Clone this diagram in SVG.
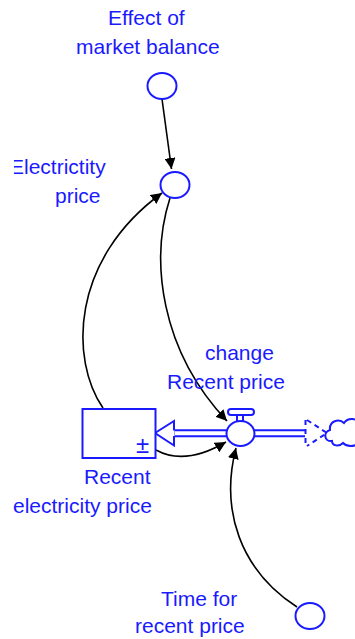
<svg xmlns="http://www.w3.org/2000/svg" width="355" height="639" viewBox="0 0 355 639">
<style>
text{font-family:"Liberation Sans",Arial,sans-serif;font-size:21px;fill:#1a1aff}
.aux{fill:#fff;stroke:#1a1aff;stroke-width:2}
.link{fill:none;stroke:#000;stroke-width:1.6}
</style>
<defs>
<marker id="ah" markerUnits="userSpaceOnUse" markerWidth="11" markerHeight="11" viewBox="0 0 10 10" refX="10" refY="5" orient="auto">
<path d="M0,0 L10,5 L0,10 z" fill="#000"/>
</marker>
<clipPath id="clipE"><rect x="14" y="0" width="341" height="639"/></clipPath>
</defs>
<rect width="355" height="639" fill="#fff"/>
<g id="connectors">
<path class="link" d="M162,99 L171.5,169" marker-end="url(#ah)"/>
<path class="link" d="M170,198 C150,260 160,350 227,421" marker-end="url(#ah)"/>
<path class="link" d="M103,408 C70,360 70,260 162,193" marker-end="url(#ah)"/>
<path class="link" d="M156,450 Q185,466 226,442" marker-end="url(#ah)"/>
<path class="link" d="M297,607 C240,570 220,510 236,448" marker-end="url(#ah)"/>
</g>
<g id="effect-of-market-balance">
<ellipse class="aux" cx="162" cy="86" rx="14.5" ry="13"/>
<text x="108" y="25">Effect of</text>
<text x="76" y="54">market balance</text>
</g>
<g id="electricity-price">
<ellipse class="aux" cx="175" cy="185" rx="14.5" ry="13"/>
<g clip-path="url(#clipE)"><text x="10" y="174">Electrictity</text></g>
<text x="55" y="203">price</text>
</g>
<g id="flow-change-recent-price">
<path d="M174,433.3 L305,433.3" stroke="#1a1aff" stroke-width="8" fill="none"/>
<path d="M173,433.3 L306,433.3" stroke="#fff" stroke-width="4" fill="none"/>
<polygon points="155,433 174,421 174,445.5" fill="#fff" stroke="#1a1aff" stroke-width="2"/>
<path d="M173.5,430.5 L173.5,436" stroke="#fff" stroke-width="2.2"/>
<rect x="237" y="414" width="6" height="8" class="aux"/>
<rect x="228" y="409" width="26" height="6" rx="3" class="aux"/>
<ellipse class="aux" cx="240.5" cy="433.5" rx="14" ry="12.5"/>
<text x="205" y="360">change</text>
<text x="167" y="389">Recent price</text>
</g>
<g id="source-cloud">
<path d="M305.5,420 L305.5,446 M307,420 L327,433 L307,446" fill="none" stroke="#1a1aff" stroke-width="2" stroke-dasharray="5,4"/>
<path d="M332,441 C324,442 323,432 330,430 C329,421 339,418 344,423 C348,417 358,418 359,424 L359,444 C352,447 346,446 343,443 C339,447 332,446 332,441 z" fill="#fff" stroke="#1a1aff" stroke-width="2"/>
</g>
<g id="recent-electricity-price">
<rect x="82.5" y="409" width="73" height="49" fill="#fff" stroke="#1a1aff" stroke-width="2"/>
<text x="142.5" y="453" text-anchor="middle" style="font-size:24px">±</text>
<text x="84" y="484">Recent</text>
<text x="13" y="513">electricity price</text>
</g>
<g id="time-for-recent-price">
<ellipse class="aux" cx="310" cy="616" rx="14.5" ry="13"/>
<text x="161" y="606">Time for</text>
<text x="135" y="633">recent price</text>
</g>
</svg>
